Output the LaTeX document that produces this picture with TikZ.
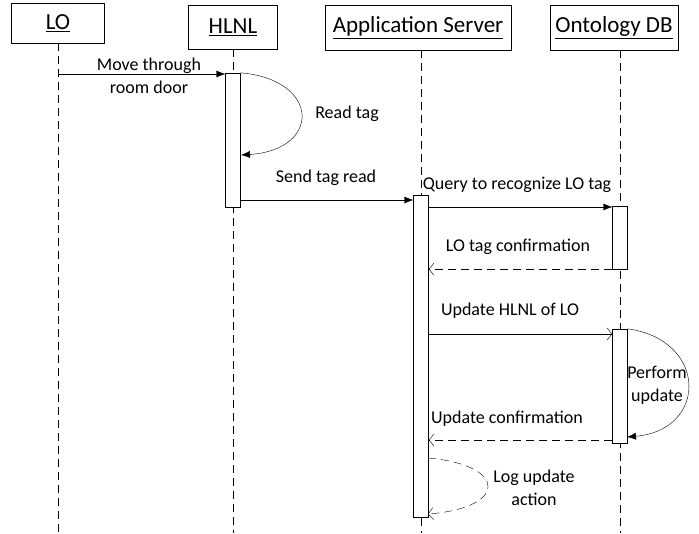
\documentclass[tikz,border=0pt]{standalone}
\usepackage{fontspec}
\setmainfont{Carlito}
\usetikzlibrary{positioning,arrows.meta,calc}

\begin{document}
\begin{tikzpicture}[x=1pt,y=-1pt,font=\fontsize{18}{23}\selectfont,
  obj/.style={rectangle,draw,inner sep=0pt,font=\fontsize{23}{26}\selectfont},
  act/.style={rectangle,draw,fill=white,minimum width=15pt,inner sep=0pt},
  life/.style={dash pattern=on 8pt off 5pt},
  msg/.style={-{Latex[length=9pt,width=7pt]}},
  reply/.style={dash pattern=on 8pt off 5pt,-{Straight Barb[length=5pt,width=12pt]}},
  openmsg/.style={-{Straight Barb[length=5pt,width=12pt]}}]

\useasboundingbox (0,0) rectangle (699,533);

%%%%%%%%%%%%%%%%%%%%%% OBJECTS

\node[obj,minimum width=93pt,minimum height=40pt] (LO) at (58,23) {\underline{LO}};
\node[obj,minimum width=89pt,minimum height=44pt] (HLNL) at (233,27) {\underline{HLNL}};
\node[obj,minimum width=186pt,minimum height=45pt] (AS) at (418,27.5) {\underline{Application Server}};
\node[obj,minimum width=128pt,minimum height=45pt] (ODB) at (614,27.5) {\underline{Ontology DB}};

\coordinate (LOend) at (58,533);
\coordinate (HLNLend) at (233,533);
\coordinate (ASend) at (421,533);
\coordinate (ODBend) at (620,533);

\draw[life] (LO.south) -- (LOend);
\draw[life] (HLNL.south) -- (HLNLend);
\draw[life] (ASend |- AS.south) -- (ASend);
\draw[life] (ODBend |- ODB.south) -- (ODBend);

%%%%%%%%%%%%%%%%%%%%%% ACTIVATIONS

\node[act,minimum height=134pt] (HLNLact) at (233,140) {};
\node[act,minimum height=322pt] (ASact) at (421,356) {};
\node[act,minimum height=63pt] (ODBact1) at (620,237.5) {};
\node[act,minimum height=114pt] (ODBact2) at (620,386) {};

%%%%%%%%%%%%%%%%%%%%%% MESSAGES

\coordinate (m1) at (58,74);
\draw[msg] (m1) -- (m1 -| HLNLact.west);
\node[align=center] (m1l) at (149,76) {Move through\\room door};

\draw[msg] (HLNLact.north east) .. controls (321,80) and (321,150) .. (241,155);
\node (m2l) at (347,114) {Read tag};

\coordinate (m3) at (0,200);
\draw[msg] (m3 -| HLNLact.east) -- (m3 -| ASact.west);
\node (m3l) at (326,178) {Send tag read};

\coordinate (m4) at (0,207);
\draw[msg] (m4 -| ASact.east) -- (m4 -| ODBact1.west);
\node (m4l) at (517,185) {Query to recognize LO tag};

\draw[reply] (ODBact1.south west) -- (ODBact1.south west -| ASact.east);
\node (m5l) at (518,247) {LO tag confirmation};

\coordinate (m6) at (0,334);
\draw[openmsg] (m6 -| ASact.east) -- (m6 -| ODBact2.west);
\node (m6l) at (510,311) {Update HLNL of LO};

\draw[msg] (ODBact2.north east) .. controls (708,340) and (708,430) .. (627,437);
\node[align=center] (m7l) at (657,385) {Perform\\update};

\coordinate (m8) at (0,440);
\draw[reply] (m8 -| ODBact2.west) -- (m8 -| ASact.east);
\node (m8l) at (507,419) {Update confirmation};

\coordinate (m9) at (428,458);
\draw[reply] (m9) .. controls (508,465) and (508,508) .. (428,514);
\node[align=center] (m9l) at (534,488) {Log update\\action};

\end{tikzpicture}
\end{document}
